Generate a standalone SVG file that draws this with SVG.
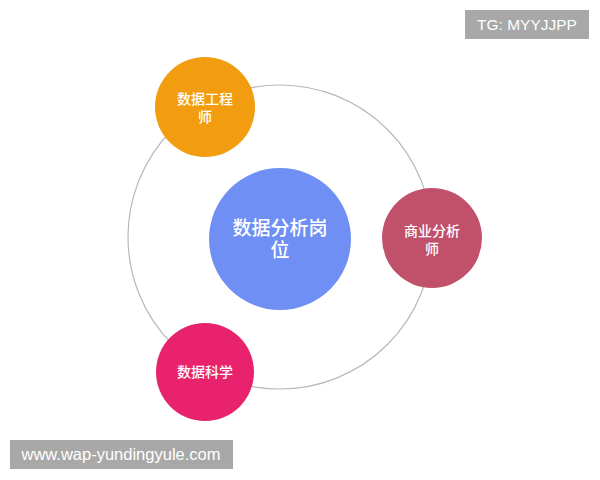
<svg xmlns="http://www.w3.org/2000/svg" width="600" height="480" viewBox="0 0 600 480">
<style>
.lbl{font-family:"Noto Sans CJK SC","Liberation Sans",sans-serif;fill:#ffffff;text-anchor:middle;font-size:14px;font-weight:500}
.big{font-size:19px}
.wm{font-family:"Liberation Sans","DejaVu Sans",sans-serif;fill:#ffffff;text-anchor:middle}
</style>
<rect width="600" height="480" fill="#ffffff"/>
<g id="connectors">
<circle cx="280" cy="237" r="152" fill="none" stroke="#b8b8b8" stroke-width="1.2"/>
</g>
<g id="center">
<circle cx="280" cy="239" r="71" fill="#6f8ff4"/>
<text class="lbl big" x="280" y="235"><tspan x="280">数据分析岗</tspan><tspan x="280" dy="22">位</tspan></text>
</g>
<g id="engineer">
<circle cx="205" cy="107" r="50" fill="#f29d0f"/>
<text class="lbl" x="205" y="104"><tspan x="205">数据工程</tspan><tspan x="205" dy="18">师</tspan></text>
</g>
<g id="business">
<circle cx="432" cy="238" r="50" fill="#c1506a"/>
<text class="lbl" x="432" y="236"><tspan x="432">商业分析</tspan><tspan x="432" dy="18">师</tspan></text>
</g>
<g id="science">
<circle cx="205" cy="372" r="49" fill="#e8226d"/>
<text class="lbl" x="205" y="377">数据科学</text>
</g>
<g id="watermarks">
<rect x="465" y="10" width="124" height="29" fill="#a8a8a8"/>
<text class="wm" x="527" y="30" font-size="15.5">TG: MYYJJPP</text>
<rect x="10" y="440" width="223" height="29" fill="#a8a8a8"/>
<text class="wm" x="121" y="460" font-size="16.5">www.wap-yundingyule.com</text>
</g>
</svg>
